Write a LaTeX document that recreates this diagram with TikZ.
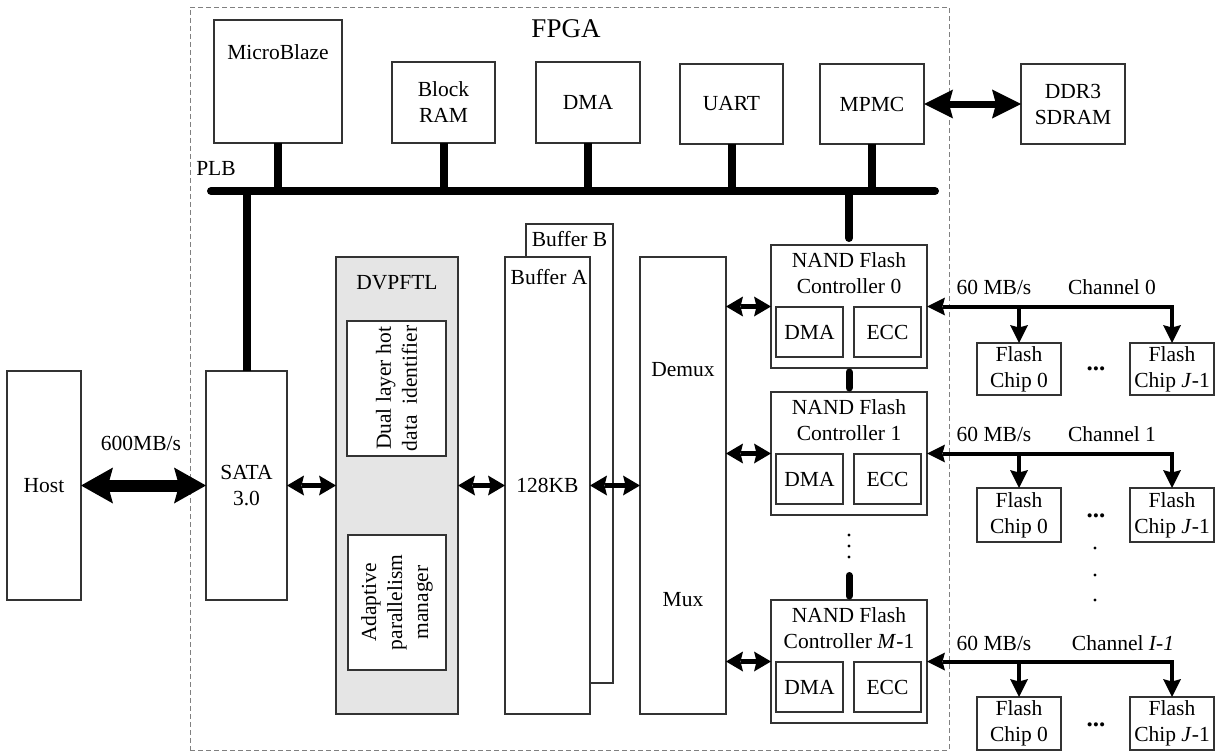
\documentclass[tikz,border=0pt]{standalone}
\usepackage{fontspec}
\setmainfont{Liberation Serif}
\usetikzlibrary{arrows.meta}
\begin{document}
\begin{tikzpicture}[x=1pt,y=-1pt,
  every node/.style={font=\fontsize{21.5}{26}\selectfont, inner sep=0pt, outer sep=0pt},
  box/.style={draw=black!80, line width=1.1pt, fill=white, anchor=north west, align=center},
  graybox/.style={box, fill=black!10},
  fpgabox/.style={draw=black!50, line width=0.9pt, dash pattern=on 5pt off 3pt, anchor=north west},
  bus/.style={line width=8pt, draw=black},
  busr/.style={bus, line cap=round},
  pill/.style={line width=7pt, line cap=round, draw=black},
  bighead/.style={Stealth[length=32pt,width=36pt,inset=5pt,line width=0pt]},
  memhead/.style={Stealth[length=29pt,width=29pt,inset=4pt,line width=0pt]},
  smallhead/.style={Stealth[length=17pt,width=20pt,inset=2.5pt,line width=0pt]},
  chanhead/.style={Stealth[length=18pt,width=18pt,inset=2.5pt,line width=0pt]},
  big/.style={line width=12pt, {Stealth[length=32pt,width=36pt,inset=5pt,line width=0pt]}-{Stealth[length=32pt,width=36pt,inset=5pt,line width=0pt]}},
  mem/.style={line width=7pt, {Stealth[length=29pt,width=29pt,inset=4pt,line width=0pt]}-{Stealth[length=29pt,width=29pt,inset=4pt,line width=0pt]}},
  small/.style={line width=4.5pt, {Stealth[length=17pt,width=20pt,inset=2.5pt,line width=0pt]}-{Stealth[length=17pt,width=20pt,inset=2.5pt,line width=0pt]}},
  chan/.style={line width=4pt, -{Stealth[length=18pt,width=18pt,inset=2.5pt,line width=0pt]}},
  chanb/.style={line width=4pt, {Stealth[length=18pt,width=18pt,inset=2.5pt,line width=0pt]}-{Stealth[length=18pt,width=18pt,inset=2.5pt,line width=0pt]}},
  dot/.style={circle, fill=black, minimum size=3.2pt, inner sep=0pt},
  hdots/.style={anchor=base, font=\fontsize{25}{30}\selectfont\bfseries},
  bigfont/.style={font=\fontsize{27}{32}\selectfont}
]
\useasboundingbox (0,0) rectangle (1216,752);

% FPGA region
\node[fpgabox, minimum width=759pt, minimum height=743pt] (fpga) at (190,7) {};
\node[bigfont] (fpgalbl) at (566,29) {FPGA};

% top row
\node[box, minimum width=128pt, minimum height=123pt] (mb) at (214,20) {};
\node (mblbl) at (278,52) {MicroBlaze};
\node[box, minimum width=103pt, minimum height=81pt] (bram) at (392,62) {Block\\RAM};
\node[box, minimum width=104pt, minimum height=81pt] (dma) at (536,62) {DMA};
\node[box, minimum width=103pt, minimum height=80pt] (uart) at (680,64) {UART};
\node[box, minimum width=104pt, minimum height=80pt] (mpmc) at (820,64) {MPMC};
\node[box, minimum width=104pt, minimum height=80pt] (ddr) at (1021,64) {DDR3\\SDRAM};

% PLB bus
\node (plblbl) at (216,168) {PLB};
\coordinate (plbL) at (211,191);
\coordinate (plbR) at (935,191);
\draw[busr] (plbL) -- (plbR);
\draw[bus] (mb.south) -- (mb.south |- plbL);
\draw[bus] (bram.south) -- (bram.south |- plbL);
\draw[bus] (dma.south) -- (dma.south |- plbL);
\draw[bus] (uart.south) -- (uart.south |- plbL);
\draw[bus] (mpmc.south) -- (mpmc.south |- plbL);
\draw[mem] (mpmc.east) -- (ddr.west);

% host / SATA
\node[box, minimum width=74pt, minimum height=229pt] (host) at (7,371) {Host};
\node[box, minimum width=81pt, minimum height=229pt] (sata) at (206,371) {SATA\\3.0};
\node (ratelbl) at (141,443) {600MB/s};
\draw[big] (host.east) -- (sata.west);
\draw[bus] (sata.north) -- (sata.north |- plbL);

% DVPFTL
\node[graybox, minimum width=122pt, minimum height=457pt] (dvp) at (336,257) {};
\node (dvplbl) at (397,283) {DVPFTL};
\node[box, minimum width=99pt, minimum height=135pt] (dl) at (347,321) {};
\node[rotate=90, align=center] (dltxt) at (dl.center) {Dual layer hot\\data\ \ identifier};
\node[box, minimum width=98pt, minimum height=135pt] (ap) at (348,535) {};
\node[rotate=90, align=center] (aptxt) at (ap.center) {Adaptive\\parallelism\\manager};

% buffers
\node[box, minimum width=87pt, minimum height=459pt] (bufb) at (526,224) {};
\node (bufblbl) at (569.5,239) {Buffer B};
\node[box, minimum width=85pt, minimum height=457pt] (bufa) at (505,257) {128KB};
\node (bufalbl) at (549,277) {Buffer A};

% demux
\node[box, minimum width=86pt, minimum height=457pt] (demux) at (640,257) {};
\node (demuxlbl) at (683,370) {Demux};
\node (muxlbl) at (683,600) {Mux};

\draw[small] (sata.east) -- (dvp.west);
\draw[small] (dvp.east) -- (bufa.west);
\draw[small] (bufa.east) -- (demux.west);

% NAND controllers
\node[box, minimum width=156pt, minimum height=123pt] (n0) at (771,245) {};
\node[align=center] (n0t) at (849,273) {NAND Flash\\Controller 0};
\node[box, minimum width=67pt, minimum height=50pt] (n0d) at (776,307) {DMA};
\node[box, minimum width=67pt, minimum height=50pt] (n0e) at (854,307) {ECC};

\node[box, minimum width=156pt, minimum height=123pt] (n1) at (771,392) {};
\node[align=center] (n1t) at (849,420) {NAND Flash\\Controller 1};
\node[box, minimum width=67pt, minimum height=50pt] (n1d) at (776,454) {DMA};
\node[box, minimum width=67pt, minimum height=50pt] (n1e) at (854,454) {ECC};

\node[box, minimum width=156pt, minimum height=123pt] (nm) at (771,600) {};
\node[align=center] (nmt) at (849,628) {NAND Flash\\Controller \textit{M}-1};
\node[box, minimum width=67pt, minimum height=50pt] (nmd) at (776,662) {DMA};
\node[box, minimum width=67pt, minimum height=50pt] (nme) at (854,662) {ECC};

\draw[busr, shorten >=7pt] (n0.north |- plbL) -- (n0.north);
\draw[pill, shorten <=4pt, shorten >=4pt] (n0.south) -- (n1.north);
\coordinate (pilltop) at (849,575.5);
\draw[pill, shorten >=4pt] (pilltop) -- (nm.north);
\node[dot] (nd1) at (849,535) {};
\node[dot] (nd2) at (849,546) {};
\node[dot] (nd3) at (849,557) {};

\draw[small] (demux.east |- n0.west) -- (n0.west);
\draw[small] (demux.east |- n1.west) -- (n1.west);
\draw[small] (demux.east |- nm.west) -- (nm.west);

% flash chips and channels
\node[box, minimum width=84pt, minimum height=52pt] (c00) at (977,343) {Flash\\Chip 0};
\node[box, minimum width=84pt, minimum height=52pt] (c0j) at (1130,343) {Flash\\Chip \textit{J}-1};
\node[hdots] (c0dots) at (1096,370) {...};
\node (r0lbl) at (994,287) {60 MB/s};
\node (ch0lbl) at (1112,287) {Channel 0};
\draw[chanb] (n0.east) -| (c0j.north);
\draw[chan] (c00.north |- n0.east) -- (c00.north);

\node[box, minimum width=84pt, minimum height=54pt] (c10) at (977,488) {Flash\\Chip 0};
\node[box, minimum width=84pt, minimum height=54pt] (c1j) at (1130,488) {Flash\\Chip \textit{J}-1};
\node[hdots] (c1dots) at (1096,517) {...};
\node (r1lbl) at (994,434) {60 MB/s};
\node (ch1lbl) at (1112,434) {Channel 1};
\draw[chanb] (n1.east) -| (c1j.north);
\draw[chan] (c10.north |- n1.east) -- (c10.north);

\node[dot] (vd1) at (1095,548) {};
\node[dot] (vd2) at (1095,575) {};
\node[dot] (vd3) at (1095,600) {};

\node[box, minimum width=84pt, minimum height=53pt] (cm0) at (977,697) {Flash\\Chip 0};
\node[box, minimum width=84pt, minimum height=53pt] (cmj) at (1130,697) {Flash\\Chip \textit{J}-1};
\node[hdots] (cmdots) at (1096,726) {...};
\node (rmlbl) at (994,643) {60 MB/s};
\node (chmlbl) at (1123,643) {Channel \textit{I-1}};
\draw[chanb] (nm.east) -| (cmj.north);
\draw[chan] (cm0.north |- nm.east) -- (cm0.north);
\end{tikzpicture}
\end{document}
